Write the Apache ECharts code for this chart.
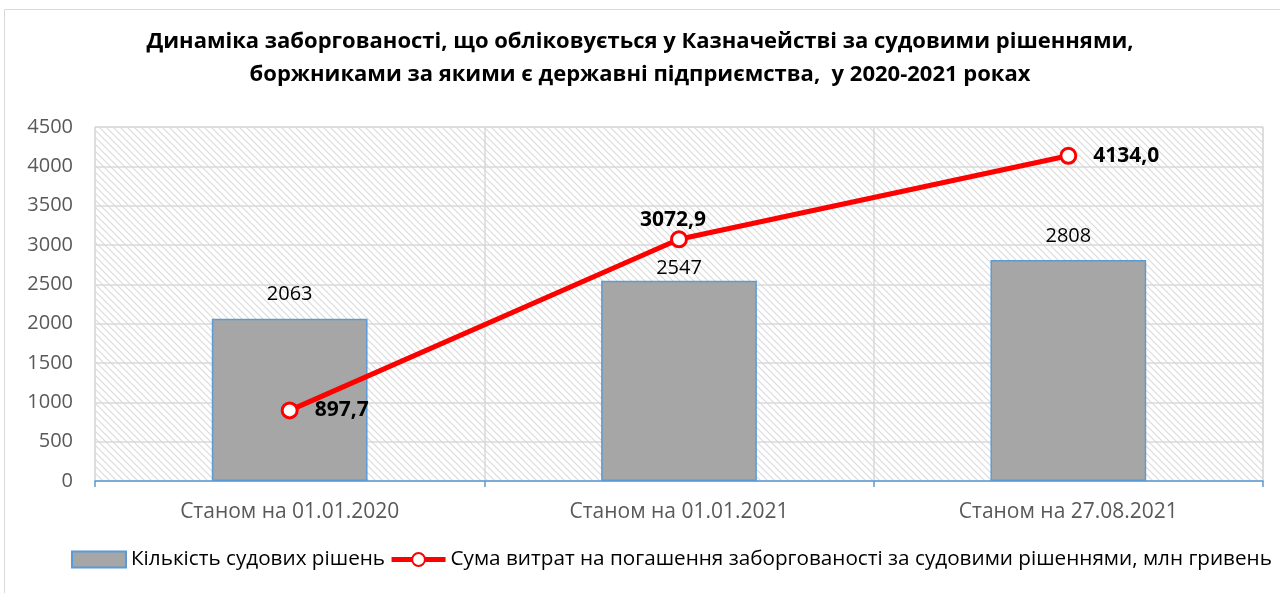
<!DOCTYPE html>
<html><head><meta charset="utf-8">
<script src="https://cdn.jsdelivr.net/npm/echarts@6/dist/echarts.min.js"></script>
<style>html,body{margin:0;padding:0;background:#fff}#c{width:1280px;height:593px}</style>
</head><body><div id="c"></div>
<script>
const categories = ['Станом на 01.01.2020', 'Станом на 01.01.2021', 'Станом на 27.08.2021'];
const countValues = [2063, 2547, 2808];
const sumValues = [897.7, 3072.9, 4134.0];
const yTicks = [0, 500, 1000, 1500, 2000, 2500, 3000, 3500, 4000, 4500];
const seriesNames = ['Кількість судових рішень', 'Сума витрат на погашення заборгованості за судовими рішеннями, млн гривень'];
const titleText = 'Динаміка заборгованості, що обліковується у Казначействі за судовими рішеннями,\nборжниками за якими є державні підприємства,  у 2020-2021 роках';

const tile = document.createElement('canvas');
tile.width = 7; tile.height = 7;
const tc = tile.getContext('2d');
tc.fillStyle = '#ffffff'; tc.fillRect(0,0,7,7);
tc.strokeStyle = '#dadada'; tc.lineWidth = 1.1;
tc.beginPath(); tc.moveTo(-1,-1); tc.lineTo(8,8); tc.moveTo(-8,-1); tc.lineTo(1,8); tc.moveTo(6,-1); tc.lineTo(15,8); tc.stroke();

const font = '"Open Sans", "Noto Sans", sans-serif';
const chart = echarts.init(document.getElementById('c'), null, {renderer: 'canvas'});
const labelPos = ['right', 'top', 'right'];
const lineLabelOffset = [[0, 0], [-6, 0], [0, 0]];
const lineLabelDist = [16, 0, 16];
const barLabelDist = [14, 2, 14];
chart.setOption({
  animation: false,
  graphic: [{type: 'rect', shape: {x: 4.5, y: 9.5, width: 1300, height: 620}, style: {fill: 'none', stroke: '#d9d9d9', lineWidth: 1}, z: -10}],
  title: {
    text: titleText, left: 'center', top: 20,
    textStyle: {fontFamily: font, fontWeight: 'bold', fontSize: 22, lineHeight: 33, color: '#000'}
  },
  grid: {left: 95, right: 17, top: 127, bottom: 112, show: true, backgroundColor: {image: tile, repeat: 'repeat'}, borderColor: '#d9d9d9', borderWidth: 1},
  legend: {
    bottom: 18, left: 66, itemGap: 4, itemWidth: 54, itemHeight: 16,
    textStyle: {fontFamily: font, fontSize: 20.7, color: '#000'},
    data: [{name: seriesNames[0], icon: 'rect'}, {name: seriesNames[1], lineStyle: {width: 5}}]
  },
  xAxis: {
    type: 'category', data: categories,
    axisLine: {lineStyle: {color: '#5b9bd5', width: 1.5}},
    axisTick: {show: true, length: 6, lineStyle: {color: '#5b9bd5', width: 1.5}},
    splitLine: {show: true, lineStyle: {color: '#d9d9d9', width: 1.5}},
    axisLabel: {fontFamily: font, fontSize: 21, color: '#595959', margin: 21}
  },
  yAxis: {
    type: 'value', min: 0, max: 4500, interval: 500,
    axisLine: {show: false}, axisTick: {show: false},
    splitLine: {lineStyle: {color: '#d9d9d9', width: 1.5}},
    axisLabel: {fontFamily: font, fontSize: 20, color: '#595959', margin: 22,
      formatter: v => yTicks.includes(v) ? String(v) : ''}
  },
  series: [
    {
      name: seriesNames[0], type: 'bar', barWidth: '40%',
      data: countValues.map((v, i) => ({value: v, label: {distance: barLabelDist[i]}})),
      itemStyle: {color: '#a6a6a6', borderColor: '#5b9bd5', borderWidth: 1.5},
      label: {show: true, position: 'top', fontFamily: font, fontSize: 20, color: '#000'}
    },
    {
      name: seriesNames[1], type: 'line',
      data: sumValues.map((v, i) => ({value: v, label: {position: labelPos[i], offset: lineLabelOffset[i], distance: lineLabelDist[i]}})),
      lineStyle: {color: '#ff0000', width: 5}, itemStyle: {color: '#fff', borderColor: '#ff0000', borderWidth: 3},
      symbol: 'circle', symbolSize: 15, z: 5,
      label: {show: true, fontFamily: font, fontSize: 21, fontWeight: 'bold', color: '#000',
        formatter: p => p.value.toFixed(1).replace('.', ',')}
    }
  ]
});
</script></body></html>
